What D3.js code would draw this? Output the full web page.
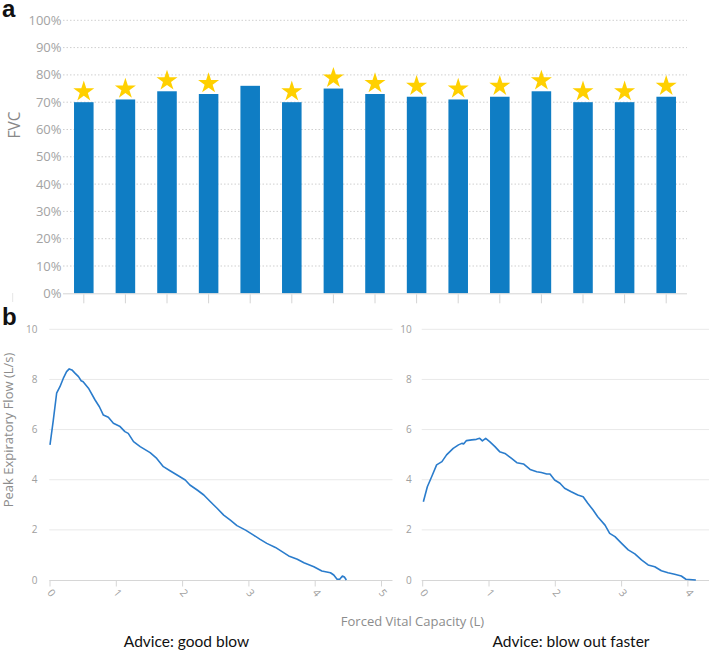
<!DOCTYPE html>
<html><head><meta charset="utf-8">
<script src="https://cdn.jsdelivr.net/npm/d3@7"></script>
<style>body{margin:0;background:#fff}</style>
</head><body><svg id="c" width="709" height="651"></svg>
<script>
// ---------- data ----------
const fvcCategories = ["1","2","3","4","5","6","7","8","9","10","11","12","13","14","15"];
const fvcValues = [70,71,74,73,76,70,75,73,72,71,72,74,70,70,72];
const fvcStars  = [1,1,1,1,0,1,1,1,1,1,1,1,1,1,1];
const fvcTicks  = [0,10,20,30,40,50,60,70,80,90,100];

const goodVolume = [0,0.05,0.1,0.15,0.2,0.25,0.29,0.33,0.38,0.43,0.47,0.5,0.58,0.68,0.745,0.805,0.88,0.956,1.057,1.13,1.18,1.26,1.36,1.51,1.61,1.71,1.81,1.96,2.04,2.11,2.22,2.32,2.42,2.52,2.62,2.72,2.82,2.95,3.07,3.17,3.27,3.40,3.50,3.60,3.73,3.83,3.98,4.10,4.23,4.28,4.33,4.37,4.41,4.44,4.47];
const goodFlow   = [5.39,6.38,7.45,7.71,8.04,8.31,8.42,8.38,8.24,8.11,7.95,7.91,7.65,7.18,6.91,6.58,6.49,6.25,6.12,5.92,5.85,5.52,5.32,5.08,4.85,4.52,4.36,4.12,3.99,3.79,3.59,3.39,3.12,2.86,2.59,2.39,2.17,1.99,1.79,1.62,1.46,1.30,1.13,0.96,0.83,0.69,0.53,0.36,0.29,0.2,0.03,0.03,0.16,0.12,0];

const fasterVolume = [0.01,0.07,0.135,0.21,0.29,0.36,0.46,0.54,0.59,0.62,0.66,0.74,0.81,0.86,0.90,0.95,1.01,1.09,1.16,1.24,1.34,1.42,1.52,1.62,1.72,1.79,1.87,1.92,1.99,2.07,2.14,2.24,2.34,2.42,2.49,2.57,2.64,2.75,2.82,2.90,3.00,3.10,3.20,3.30,3.40,3.50,3.60,3.70,3.80,3.90,3.97,4.12];
const fasterFlow   = [3.12,3.72,4.12,4.59,4.72,4.99,5.25,5.39,5.45,5.43,5.56,5.59,5.61,5.65,5.55,5.65,5.52,5.32,5.12,5.05,4.85,4.68,4.63,4.41,4.32,4.29,4.23,4.23,3.99,3.86,3.66,3.52,3.39,3.32,3.06,2.79,2.52,2.19,1.86,1.73,1.46,1.20,1.04,0.80,0.60,0.53,0.37,0.29,0.23,0.16,0.03,0];

const flowTicks = [0,2,4,6,8,10];
const goodVolTicks = [0,1,2,3,4,5];
const fasterVolTicks = [0,1,2,3,4];

// ---------- drawing ----------
const svg = d3.select("#c");
const FONT = "'Open Sans', sans-serif";
const LINE = "#2a7ccc";

// panel labels
svg.append("text").attr("x",2).attr("y",17).text("a")
  .attr("font-family","'Liberation Sans', Arial, sans-serif").attr("font-weight","bold").attr("font-size",24).attr("fill","#111");
svg.append("text").attr("x",2).attr("y",325).text("b")
  .attr("font-family","'Liberation Sans', Arial, sans-serif").attr("font-weight","bold").attr("font-size",24).attr("fill","#111");

// ---- panel a ----
const xa = d3.scaleBand().domain(fvcCategories).range([63,687]).paddingInner(0.53).paddingOuter(0.265);
const ya = d3.scaleLinear().domain([0,100]).range([293.3,20.3]);

const ga = svg.append("g");
ga.selectAll("line.grid").data(fvcTicks.filter(d=>d>0)).join("line")
  .attr("x1",63).attr("x2",687).attr("y1",d=>ya(d)).attr("y2",d=>ya(d))
  .attr("stroke","#cfcfcf").attr("stroke-width",1).attr("stroke-dasharray","1.5,2");
ga.selectAll("text.yt").data(fvcTicks).join("text")
  .attr("x",61.5).attr("y",d=>ya(d)).attr("dy","0.35em").attr("text-anchor","end")
  .attr("font-family",FONT).attr("font-size",13).attr("fill","#a3a3a3")
  .text(d=>d+"%");
ga.append("text").attr("transform","translate(20,125) rotate(-90)").attr("text-anchor","middle")
  .attr("font-family",FONT).attr("font-size",15.5).attr("fill","#888").text("FVC");

ga.selectAll("rect").data(fvcValues).join("rect")
  .attr("x",(d,i)=>xa(fvcCategories[i])).attr("width",xa.bandwidth())
  .attr("y",d=>ya(d)).attr("height",d=>ya(0)-ya(d))
  .attr("fill","#0f7dc4");

// axis baseline and ticks
ga.append("line").attr("x1",63).attr("x2",687).attr("y1",ya(0)+0.5).attr("y2",ya(0)+0.5).attr("stroke","#d4d4d4");
ga.selectAll("line.tk").data(fvcCategories).join("line")
  .attr("x1",d=>xa(d)+xa.bandwidth()/2).attr("x2",d=>xa(d)+xa.bandwidth()/2)
  .attr("y1",ya(0)+1).attr("y2",ya(0)+10).attr("stroke","#d4d4d4");
ga.append("line").attr("x1",12.7).attr("x2",12.7).attr("y1",293).attr("y2",302).attr("stroke","#e6e6e6");

const star = d3.symbol(d3.symbolStar, 137);
ga.selectAll("path.star").data(fvcValues.map((v,i)=>({v,i})).filter(d=>fvcStars[d.i])).join("path")
  .attr("d",star)
  .attr("transform",d=>`translate(${xa(fvcCategories[d.i])+xa.bandwidth()/2},${ya(d.v)-10.6})`)
  .attr("fill","#ffd000");

// ---- panel b ----
const yb = d3.scaleLinear().domain([0,10]).range([580,329.3]);
function flowPanel(x0, x1, maxV, ticks, vol, flow, labelRight, gridStart, gridEnd){
  const x = d3.scaleLinear().domain([0,maxV]).range([x0,x1]);
  const g = svg.append("g");
  g.selectAll("line.grid").data(flowTicks.filter(d=>d>0)).join("line")
    .attr("x1",gridStart).attr("x2",gridEnd).attr("y1",d=>yb(d)).attr("y2",d=>yb(d))
    .attr("stroke","#e9e9e9");
  g.selectAll("text.yt").data(flowTicks).join("text")
    .attr("x",labelRight).attr("y",d=>yb(d)).attr("dy","0.35em").attr("text-anchor","end")
    .attr("font-family",FONT).attr("font-size",10).attr("fill","#a0a0a0").text(d=>d);
  g.append("line").attr("x1",gridStart).attr("x2",gridEnd).attr("y1",580.5).attr("y2",580.5).attr("stroke","#d6d6d6");
  g.selectAll("line.tk").data(ticks).join("line")
    .attr("x1",d=>x(d)).attr("x2",d=>x(d)).attr("y1",580.5).attr("y2",586.5).attr("stroke","#d6d6d6");
  g.selectAll("text.xt").data(ticks).join("text")
    .attr("transform",d=>`translate(${x(d)+1.5},${593}) rotate(50)`)
    .attr("text-anchor","middle").attr("dy","0.35em")
    .attr("font-family",FONT).attr("font-size",10.5).attr("fill","#a0a0a0").text(d=>d);
  const line = d3.line().x((d,i)=>x(vol[i])).y(d=>yb(d));
  g.append("path").datum(flow).attr("d",line).attr("fill","none")
    .attr("stroke",LINE).attr("stroke-width",1.6).attr("stroke-linejoin","round");
}
flowPanel(50, 392, 342/66.3, goodVolTicks, goodVolume, goodFlow, 37.5, 49.3, 392.5);
flowPanel(422.7, 709, 286.3/66.3, fasterVolTicks, fasterVolume, fasterFlow, 411.7, 421.7, 709);

svg.append("text").attr("transform","translate(13,430) rotate(-90)").attr("text-anchor","middle")
  .attr("font-family",FONT).attr("font-size",13).attr("fill","#8c8c8c").text("Peak Expiratory Flow (L/s)");
svg.append("text").attr("x",412.5).attr("y",626).attr("text-anchor","middle")
  .attr("font-family",FONT).attr("font-size",13).attr("fill","#8c8c8c").text("Forced Vital Capacity (L)");
svg.append("text").attr("x",186.5).attr("y",646.5).attr("text-anchor","middle")
  .attr("font-family","Lato, 'Open Sans', sans-serif").attr("font-size",15.5).attr("fill","#111").text("Advice: good blow");
svg.append("text").attr("x",571).attr("y",646.5).attr("text-anchor","middle")
  .attr("font-family","Lato, 'Open Sans', sans-serif").attr("font-size",15.5).attr("fill","#111").text("Advice: blow out faster");
</script>
</body></html>
